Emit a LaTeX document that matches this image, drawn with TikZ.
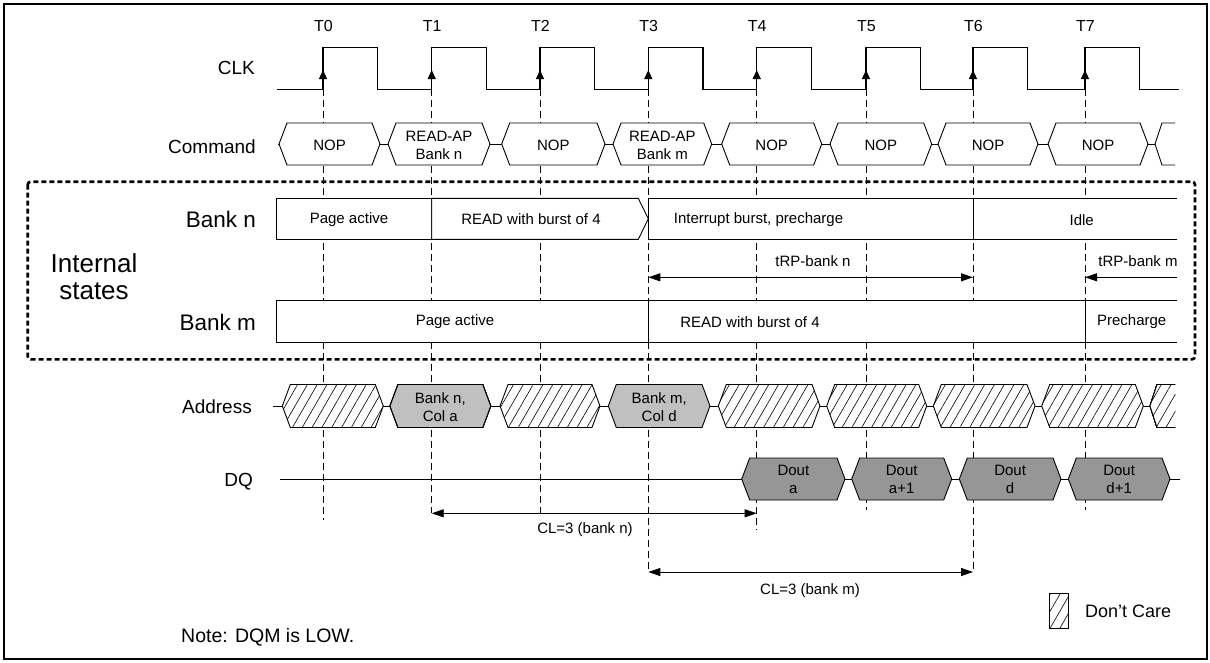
\documentclass[tikz,border=0pt]{standalone}
\usepackage{fontspec}
\setmainfont{Liberation Sans}
\usetikzlibrary{arrows.meta,patterns.meta}
\definecolor{addrgray}{RGB}{192,192,192}
\definecolor{doutgray}{RGB}{150,150,150}

% bus value: left tip, right tip, centre y, half height
\newcommand{\hexbox}[5]{%
  \path[#1] (#2,#4) -- (#2+8,#4-#5) -- (#3-8,#4-#5) -- (#3,#4)
    -- (#3-8,#4+#5) -- (#2+8,#4+#5) -- cycle;}
% bus value cut off at the right end
\newcommand{\openhex}[4]{%
  \path[#4,draw=none] (#1,#2) -- (#1+7,#2-#3) -- (1175,#2-#3) -- (1175,#2+#3) -- (#1+7,#2+#3) -- cycle;
  \draw[line width=0.9pt] (1175,#2-#3) -- (#1+7,#2-#3) -- (#1,#2) -- (#1+7,#2+#3) -- (1175,#2+#3);}

\begin{document}
\begin{tikzpicture}[x=1pt,y=-1pt,
  every node/.style={inner sep=0pt},
  small/.style={font=\fontsize{15}{18}\selectfont,align=center},
  tlbl/.style={font=\fontsize{16}{18}\selectfont},
  rowlbl/.style={font=\fontsize{19}{21}\selectfont,anchor=east},
  banklbl/.style={font=\fontsize{22.5}{24}\selectfont,anchor=east},
  wave/.style={line width=1.2pt},
  bus/.style={draw,line width=0.9pt,fill=white},
  addr/.style={bus,fill=addrgray},
  dout/.style={bus,fill=doutgray},
  hatch/.style={draw,line width=0.9pt,preaction={fill=white},
    pattern={Lines[angle=60,distance=8.5pt,line width=0.6pt]}},
  guide/.style={line width=0.8pt,dash pattern=on 7pt off 4pt},
  span/.style={line width=0.9pt,{Triangle[length=12pt,width=8pt]}-{Triangle[length=12pt,width=8pt]}}]
  \useasboundingbox (0,0) rectangle (1210,662);
  \draw[line width=1.3pt] (4,4) rectangle (1207,659);

  % internal states frame
  \draw[line width=2.6pt,dash pattern=on 5pt off 3pt,rounded corners=3pt] (27.7,181.7) rectangle (1195,359.3);

  % clock edges, guides and their labels
  \foreach \x/\e [count=\i from 0] in {323/520,431.7/513,540/513,648.3/572,756.7/530,866/510,973/572,1085/510} {
    \coordinate (t\i) at (\x,89.3);
    \draw[guide] (t\i) -- (\x,\e);
    \node[tlbl] (tl\i) at (\x+0.5,26) {T\i};
  }
  \draw[wave] (276.7,89.3) foreach \x in {323,431.7,540,648.3,756.7,866,973,1085} {
    -- (\x,89.3) -- (\x,47.7) -- (\x+54.7,47.7) -- (\x+54.7,89.3) } -- (1179,89.3);
  \foreach \i in {0,...,7}
    \draw[wave,-{Triangle[length=9pt,width=8pt]}] (t\i) -- ++(0,-19.3);

  \node[rowlbl] (clk) at (255,68) {CLK};
  \node[rowlbl] (command) at (256,147) {Command};
  \node[rowlbl] (address) at (252,407) {Address};
  \node[rowlbl] (dq) at (253,482) {DQ};
  \node[banklbl] (bankn) at (256,219.3) {Bank n};
  \node[banklbl] (bankm) at (256,322.7) {Bank m};
  \node[font=\fontsize{26}{27}\selectfont,align=center] (internal) at (94,276.7) {Internal\\states};

  % command bus
  \draw[line width=0.9pt] (277.7,144) -- (1160,144);
  \foreach \a/\b/\txt [count=\i] in {279/380/NOP,388/490/{READ-AP\\Bank n},501.7/605/NOP,
      613/711.7/{READ-AP\\Bank m},721.7/821.7/NOP,830/931.7/NOP,938/1038/NOP,1048/1148/NOP} {
    \hexbox{bus}{\a}{\b}{144}{21}
    \node[small] (cmd\i) at ({(\a+\b)/2},145.5) {\txt};
  }
  \openhex{1155}{144}{21}{bus}

  % bank n
  \draw[bus] (276.7,198.3) rectangle (431.7,239.3);
  \draw[bus] (431.7,198.3) -- (638.3,198.3) -- (648.3,218.8) -- (638.3,239.3) -- (431.7,239.3) -- cycle;
  \draw[bus] (648.3,198.3) rectangle (973,239.3);
  \fill[white] (973,198.3) rectangle (1176.7,239.3);
  \draw[line width=0.9pt] (1176.7,198.3) -- (973,198.3) -- (973,239.3) -- (1176.7,239.3);
  \node[small] (nact) at (349,219.3) {Page active};
  \node[small] (nread) at (531,219.3) {READ with burst of 4};
  \node[small] (nintr) at (758.5,219.3) {Interrupt burst, precharge};
  \node[small] (nidle) at (1081.7,220.5) {Idle};

  % bank m
  \fill[white] (276.7,300) rectangle (1176.7,342.3);
  \draw[line width=0.9pt] (1176.7,300) -- (276.7,300) -- (276.7,342.3) -- (1176.7,342.3);
  \draw[line width=0.9pt] (648.3,300) -- (648.3,342.3);
  \draw[line width=0.9pt] (1085.7,300) -- (1085.7,342.3);
  \node[small] (mact) at (455,322) {Page active};
  \node[small] (mread) at (750,322) {READ with burst of 4};
  \node[small] (mpre) at (1131.7,322) {Precharge};

  % precharge times
  \coordinate (trp) at (0,277.3);
  \coordinate (trpend) at (1177,277.3);
  \draw[span] (t3 |- trp) -- (t6 |- trp);
  \draw[line width=0.9pt,-{Triangle[length=12pt,width=8pt]}] (trpend) -- (t7 |- trp);
  \node[small] (trpn) at (813,260.7) {tRP-bank n};
  \node[small] (trpm) at (1138,260.7) {tRP-bank m};

  % address bus
  \draw[line width=0.9pt] (273,406) -- (1160,406);
  \foreach \a/\b in {282.3/383.3,500/600,718.3/820,826.7/926.7,933.3/1035,1041.7/1143.3}
    \hexbox{hatch}{\a}{\b}{406}{21.5}
  \openhex{1150}{406}{21.5}{hatch}
  \hexbox{addr}{390}{490.7}{406}{21.5}
  \node[small] (cola) at (440.3,407.5) {Bank n,\\Col a};
  \hexbox{addr}{608.3}{710}{406}{21.5}
  \node[small] (cold) at (659.2,407.5) {Bank m,\\Col d};

  % data bus
  \draw[line width=0.9pt] (280,479) -- (1180,479);
  \foreach \a/\b/\txt [count=\i] in {741.7/845/a,851.7/951.7/a+1,959.3/1061/d,1068.3/1170/d+1} {
    \hexbox{dout}{\a}{\b}{479}{21}
    \node[small] (dout\i) at ({(\a+\b)/2},479.5) {Dout\\\txt};
  }

  % CAS latencies
  \coordinate (cln) at (0,513.3);
  \coordinate (clm) at (0,572);
  \draw[span] (t1 |- cln) -- (t4 |- cln);
  \draw[span] (t3 |- clm) -- (t6 |- clm);
  \node[small] (clnl) at (585,529.5) {CL=3 (bank n)};
  \node[small] (clml) at (810,591) {CL=3 (bank m)};

  % legend
  \draw[hatch] (1049,593) rectangle (1068,628);
  \node[font=\fontsize{18}{20}\selectfont,anchor=west] (dontcare) at (1085,611.7) {Don’t Care};
  \node[font=\fontsize{19.5}{21}\selectfont,anchor=west] (note) at (181,637) {Note: DQM is LOW.};
\end{tikzpicture}
\end{document}
